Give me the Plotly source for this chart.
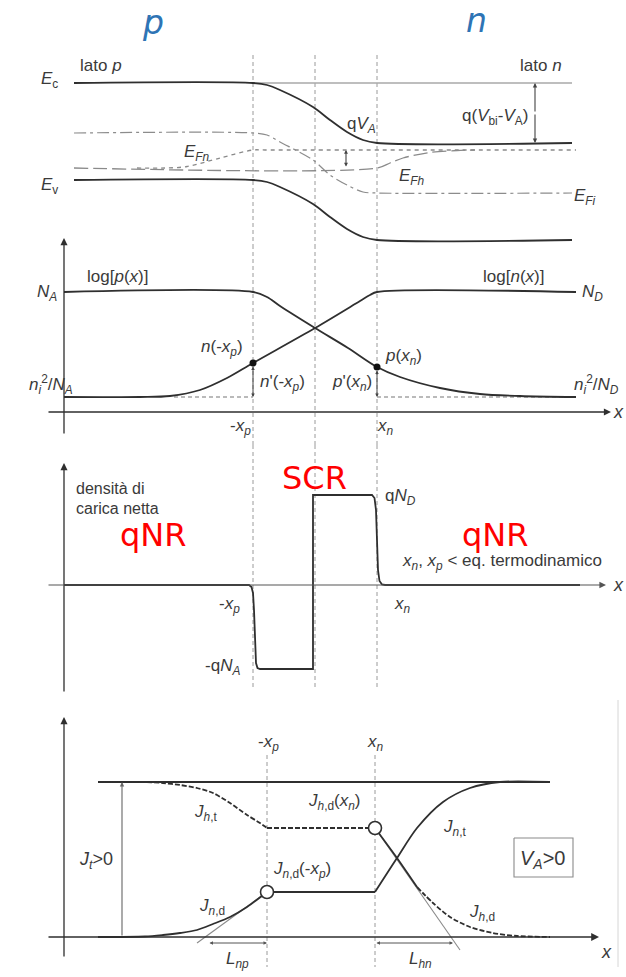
import plotly.graph_objects as go

# ---------------------------------------------------------------
# p-n junction under forward bias: bands, carriers, charge, currents
# x positions are in diagram units, junction at x = 0
# ---------------------------------------------------------------
XP, XN = -6.2, 6.2          # -x_p and x_n edges of the space-charge region
X_MID = 0.0

# ---- panel 1: band diagram (energy, arbitrary units) ----
band_x = [-24.1, -6.2, -4.8, -3.5, -0.2, 1.5, 3.2, 4.8, 6.2, 25.7]
ec_y = [15.7, 15.7, 15.5, 15.0, 13.3, 12.0, 10.8, 10.0, 9.7, 9.7]
ev_y = [6.0, 6.0, 5.8, 5.3, 3.6, 2.3, 1.1, 0.3, 0.0, 0.0]
efi_y = [10.7, 10.7, 10.5, 9.8, 8.0, 6.5, 5.5, 4.8, 4.7, 4.7]
ec_ref_x = [-6.2, 25.7]
ec_ref_y = [15.7, 15.7]
efn_x = [-17.8, -15.0, -12.8, -9.5, -6.2, -5.0, 26.1]
efn_y = [7.2, 7.2, 7.35, 8.2, 9.0, 9.0, 9.0]
efp_x = [-24.1, 6.2, 7.5, 8.8, 11.5, 14.2, 16.0]
efp_y = [7.2, 7.2, 7.7, 8.2, 8.75, 8.95, 9.0]
qva_x = 3.1
qvbi_x = 22.0

# ---- panel 2: log of carrier densities ----
p_x = [-25.1, -6.2, -4.8, -3.5, 0.0, 3.3, 6.2, 8.5, 12.5, 16.5, 20.5, 26.1]
p_y = [12.0, 12.0, 11.5, 10.6, 8.4, 6.4, 4.5, 3.5, 2.4, 1.8, 1.6, 1.5]
n_x = [-25.1, -17.5, -14.5, -11.5, -8.8, -6.2, 0.0, 4.5, 5.5, 6.2, 26.1]
n_y = [1.5, 1.5, 1.6, 2.2, 3.4, 4.9, 8.4, 11.1, 11.7, 12.0, 12.0]
NA_LEVEL, NI2_LEVEL = 12.0, 1.5
n_edge = (XP, 4.9)      # n(-x_p)
p_edge = (XN, 4.5)      # p(x_n)
eq_ref_left_x = [-14.1, XP]
eq_ref_right_x = [XN, 26.1]

# ---- panel 3: net charge density ----
rho_x = [-25.1, -6.6, -6.35, -6.2, -6.1, -6.0, -5.9, -5.75, -5.5, -0.2, -0.2,
         5.7, 5.95, 6.1, 6.2, 6.3, 6.45, 6.7, 7.0, 26.5]
rho_y = [0.0, 0.0, -0.2, -0.8, -2.5, -6.0, -7.8, -8.3, -8.4, -8.4, 9.0,
         9.0, 8.7, 7.5, 4.5, 1.5, 0.4, 0.05, 0.0, 0.0]

# ---- panel 4: current densities ----
XP4, XN4 = -4.8, 6.0
j_tot_x = [-21.7, 23.5]
j_tot_y = [15.5, 15.5]
jht_x = [-21.7, -17.0, -15.2, -13.5, -11.8, -10.2, -8.5, -6.8, -5.5, -4.8]
jht_y = [15.5, 15.5, 15.4, 15.2, 14.9, 14.4, 13.4, 12.2, 11.4, 10.9]
jh_flat_x = [-4.8, 6.0]
jh_flat_y = [10.9, 10.9]
jnd_x = [-21.7, -17.0, -15.2, -13.5, -11.8, -10.2, -8.5, -6.8, -4.8]
jnd_y = [0.0, 0.05, 0.2, 0.4, 0.7, 1.3, 2.0, 3.0, 4.5]
jn_flat_x = [-4.8, 6.0]
jn_flat_y = [4.5, 4.5]
jnt_x = [6.0, 8.2, 10.2, 12.8, 15.5, 18.5, 23.5]
jnt_y = [4.5, 7.9, 10.9, 13.5, 14.9, 15.5, 15.5]
jhd_solid_x = [6.0, 8.2, 10.2]
jhd_solid_y = [10.9, 7.9, 5.0]
jhd_dash_x = [10.2, 11.8, 13.5, 15.5, 17.8, 20.2, 23.5]
jhd_dash_y = [5.0, 3.4, 2.0, 1.0, 0.4, 0.1, 0.0]
tan_left_x = [-11.8, -4.8]
tan_left_y = [-0.6, 4.5]
tan_right_x = [6.0, 14.5]
tan_right_y = [10.9, -1.3]
l_np = (-10.7, -4.8)
l_hn = (6.0, 13.8)
jt_arrow_x = -19.3
va_box_x = [19.9, 25.8, 25.8, 19.9, 19.9]
va_box_y = [9.9, 9.9, 6.0, 6.0, 9.9]

# ---------------------------------------------------------------
# page geometry: four stacked panels sharing one horizontal scale
# ---------------------------------------------------------------
W, H = 626, 977
UNIT = 10.0
X_ORIGIN = 315
PANELS = {  # axis: (top row, bottom row, row of y = 0)
    "y": (0, 245, 240),
    "y2": (245, 445, 412),
    "y3": (445, 700, 585),
    "y4": (700, 977, 937),
}

INK = "#2f2f2f"
TXT = "#3a3a3a"
GUIDE = "#9a9a9a"
FONT = "Liberation Sans, Arial, sans-serif"

fig = go.Figure()


def line(x, y, ax, color=INK, width=1.8, dash="solid", shape="spline", smooth=0.9):
    fig.add_trace(go.Scatter(
        x=x, y=y, mode="lines", yaxis=ax, xaxis="x",
        line=dict(color=color, width=width, dash=dash, shape=shape,
                  smoothing=smooth if shape == "spline" else None),
        hoverinfo="skip", showlegend=False))


annotations = []


def label(x, y, ax, text, size=17, color=TXT, xanchor="center", family=FONT):
    annotations.append(dict(
        x=x, y=y, xref="x", yref=ax, text=text, showarrow=False,
        xanchor=xanchor, yanchor="middle",
        font=dict(size=size, color=color, family=family)))


def arrow(x0, y0, x1, y1, ax, both=False, color=INK, width=1.3, size=1.0, head=2):
    annotations.append(dict(
        x=x1, y=y1, ax=x0, ay=y0, xref="x", yref=ax, axref="x", ayref=ax,
        text="", showarrow=True, arrowhead=head, startarrowhead=head,
        arrowside="end+start" if both else "end",
        arrowsize=size, arrowwidth=width, arrowcolor=color,
        standoff=0, startstandoff=0))


# ---------------- panel 1 ----------------
for xv in (XP, X_MID, XN):
    line([xv, xv], [18.5, -0.5], "y", color=GUIDE, width=1, dash="4px,3px", shape="linear")
line(ec_ref_x, ec_ref_y, "y", color="#a8a8a8", width=1.3, shape="linear")
line(band_x, efi_y, "y", color="#8c8c8c", width=1.2, dash="12px,4px,3px,4px")
line(efp_x, efp_y, "y", color="#8a8a8a", width=1.3, dash="14px,5px")
line(efn_x, efn_y, "y", color="#8a8a8a", width=1.3, dash="4px,4px")
line(band_x, ec_y, "y")
line(band_x, ev_y, "y")
arrow(qvbi_x, 12.7, qvbi_x, 15.7, "y", color="#444", width=1.1, size=0.8)
arrow(qvbi_x, 12.7, qvbi_x, 9.7, "y", color="#444", width=1.1, size=0.8)
arrow(qva_x, efp_y[0], qva_x, efn_y[-1], "y", both=True, color="#444", width=1.1, size=0.7)

label(-16.2, 21.8, "y", "<i>p</i>", size=33, color="#2e74b5", family="DejaVu Sans")
label(16.1, 22.0, "y", "<i>n</i>", size=33, color="#2e74b5", family="DejaVu Sans")
label(-23.7, 17.5, "y", "lato <i>p</i>", xanchor="left")
label(24.9, 17.5, "y", "lato <i>n</i>", xanchor="right")
label(-26.6, 16.0, "y", "<i>E</i><sub>c</sub>")
label(-26.6, 5.4, "y", "<i>E</i><sub>v</sub>")
label(21.5, 12.3, "y", "q(<i>V</i><sub>bi</sub>-<i>V</i><sub>A</sub>)", xanchor="right")
label(3.0, 11.5, "y", "q<i>V</i><sub><i>A</i></sub>", xanchor="left")
label(-13.3, 8.7, "y", "<i>E</i><sub><i>Fn</i></sub>", xanchor="left")
label(8.2, 6.3, "y", "<i>E</i><sub><i>Fh</i></sub>", xanchor="left")
label(25.7, 4.3, "y", "<i>E</i><sub><i>Fi</i></sub>", xanchor="left")

# ---------------- panel 2 ----------------
for xv in (XP, X_MID, XN):
    line([xv, xv], [16.7, -3.3], "y2", color=GUIDE, width=1, dash="4px,3px", shape="linear")
line(eq_ref_left_x, [NI2_LEVEL, NI2_LEVEL], "y2", color="#777", width=1.1, dash="4px,3px", shape="linear")
line(eq_ref_right_x, [NI2_LEVEL, NI2_LEVEL], "y2", color="#777", width=1.1, dash="4px,3px", shape="linear")
line(p_x, p_y, "y2")
line(n_x, n_y, "y2")
fig.add_trace(go.Scatter(
    x=[n_edge[0], p_edge[0]], y=[n_edge[1], p_edge[1]], mode="markers",
    yaxis="y2", xaxis="x", marker=dict(size=7, color="#111"),
    hoverinfo="skip", showlegend=False))
arrow(-25.1, -2.3, -25.1, 17.4, "y2", color=INK, width=1.3, size=1.1)
arrow(-26.8, 0, 29.6, 0, "y2", color=INK, width=1.3, size=1.1)
arrow(n_edge[0], n_edge[1] - 0.2, n_edge[0], NI2_LEVEL, "y2", both=True, color="#444", width=1.0, size=0.7)
arrow(p_edge[0], p_edge[1] - 0.2, p_edge[0], NI2_LEVEL, "y2", both=True, color="#444", width=1.0, size=0.7)

label(-19.8, 13.5, "y2", "log[<i>p</i>(<i>x</i>)]")
label(19.8, 13.5, "y2", "log[<i>n</i>(<i>x</i>)]")
label(-26.8, 11.9, "y2", "<i>N</i><sub><i>A</i></sub>")
label(27.7, 11.9, "y2", "<i>N</i><sub><i>D</i></sub>")
label(-26.4, 2.7, "y2", "<i>n</i><sub><i>i</i></sub><sup>2</sup>/<i>N</i><sub><i>A</i></sub>")
label(28.1, 2.7, "y2", "<i>n</i><sub><i>i</i></sub><sup>2</sup>/<i>N</i><sub><i>D</i></sub>")
label(-9.3, 6.4, "y2", "<i>n</i>(-<i>x</i><sub><i>p</i></sub>)")
label(8.8, 5.5, "y2", "<i>p</i>(<i>x</i><sub><i>n</i></sub>)")
label(-5.7, 2.9, "y2", "<i>n</i>'(-<i>x</i><sub><i>p</i></sub>)", xanchor="left")
label(5.9, 2.9, "y2", "<i>p</i>'(<i>x</i><sub><i>n</i></sub>)", xanchor="right")
label(-7.5, -1.5, "y2", "-<i>x</i><sub><i>p</i></sub>")
label(7.0, -1.5, "y2", "<i>x</i><sub><i>n</i></sub>")
label(30.3, 0.0, "y2", "<i>x</i>", size=18)

# ---------------- panel 3 ----------------
for xv in (XP, X_MID, XN):
    line([xv, xv], [14.0, -10.5], "y3", color=GUIDE, width=1, dash="4px,3px", shape="linear")
arrow(-25.1, -10.8, -25.1, 12.2, "y3", color=INK, width=1.3, size=1.1)
arrow(-26.8, 0, 29.1, 0, "y3", color="#555", width=1.1, size=1.2)
line(rho_x, rho_y, "y3", shape="linear")

label(-24.1, 9.7, "y3", "densità di", size=16, xanchor="left")
label(-24.1, 7.7, "y3", "carica netta", size=16, xanchor="left")
label(-16.2, 5.0, "y3", "qNR", size=32, color="#ff0000", family="DejaVu Sans")
label(-0.1, 10.7, "y3", "SCR", size=32, color="#ff0000", family="DejaVu Sans")
label(18.0, 5.0, "y3", "qNR", size=32, color="#ff0000", family="DejaVu Sans")
label(8.5, 2.3, "y3", "<i>x</i><sub><i>n</i></sub>, <i>x</i><sub><i>p</i></sub> &lt; eq. termodinamico",
      size=17, xanchor="left")
label(-7.3, -2.0, "y3", "-<i>x</i><sub><i>p</i></sub>", xanchor="right")
label(7.7, -2.0, "y3", "<i>x</i><sub><i>n</i></sub>", xanchor="left")
label(-7.3, -8.2, "y3", "-q<i>N</i><sub><i>A</i></sub>", xanchor="right")
label(6.8, 8.8, "y3", "q<i>N</i><sub><i>D</i></sub>", xanchor="left")
label(30.3, 0.0, "y3", "<i>x</i>", size=18)

# ---------------- panel 4 ----------------
for xv in (XP4, XN4):
    line([xv, xv], [18.2, -3.0], "y4", color=GUIDE, width=1, dash="4px,3px", shape="linear")
line([30.3, 30.3], [23.7, -3.0], "y4", color="#d6d6d6", width=1, shape="linear")
arrow(-25.1, -2.1, -25.1, 22.0, "y4", color=INK, width=1.3, size=1.1)
arrow(-26.8, 0, 28.4, 0, "y4", color=INK, width=1.3, size=1.2)
line(tan_left_x, tan_left_y, "y4", color="#8a8a8a", width=1.1, shape="linear")
line(tan_right_x, tan_right_y, "y4", color="#8a8a8a", width=1.1, shape="linear")
line(j_tot_x, j_tot_y, "y4", shape="linear")
line(jht_x, jht_y, "y4", dash="5px,2px", smooth=0.8)
line(jh_flat_x, jh_flat_y, "y4", dash="5px,2px", shape="linear")
line(jnd_x, jnd_y, "y4", smooth=0.8)
line(jn_flat_x, jn_flat_y, "y4", shape="linear")
line(jnt_x, jnt_y, "y4", smooth=0.8)
line(jhd_solid_x, jhd_solid_y, "y4", smooth=0.6)
line(jhd_dash_x, jhd_dash_y, "y4", dash="5px,2px", smooth=0.8)
line(va_box_x, va_box_y, "y4", color="#8a8a8a", width=1.1, shape="linear")
fig.add_trace(go.Scatter(
    x=[jnd_x[-1], jh_flat_x[-1]], y=[jnd_y[-1], jh_flat_y[-1]], mode="markers",
    yaxis="y4", xaxis="x",
    marker=dict(size=13, color="white", line=dict(color=INK, width=1.6)),
    hoverinfo="skip", showlegend=False))
arrow(jt_arrow_x, 0, jt_arrow_x, j_tot_y[0], "y4", color="#666", width=1.1, size=0.8)
arrow(l_np[0], -0.6, l_np[1], -0.6, "y4", both=True, color="#555", width=1.0, size=0.7)
arrow(l_hn[0], -0.6, l_hn[1], -0.6, "y4", both=True, color="#555", width=1.0, size=0.7)

label(-4.7, 19.4, "y4", "-<i>x</i><sub><i>p</i></sub>")
label(6.0, 19.4, "y4", "<i>x</i><sub><i>n</i></sub>")
label(-11.0, 12.4, "y4", "<i>J</i><sub><i>h</i>,t</sub>")
label(1.9, 13.5, "y4", "<i>J</i><sub><i>h</i>,d</sub>(<i>x</i><sub><i>n</i></sub>)")
label(-1.3, 6.7, "y4", "<i>J</i><sub><i>n</i>,d</sub>(-<i>x</i><sub><i>p</i></sub>)")
label(-10.3, 3.0, "y4", "<i>J</i><sub><i>n</i>,d</sub>")
label(13.9, 10.9, "y4", "<i>J</i><sub><i>n</i>,t</sub>")
label(16.7, 2.4, "y4", "<i>J</i><sub><i>h</i>,d</sub>")
label(-7.8, -2.3, "y4", "<i>L</i><sub><i>np</i></sub>")
label(10.5, -2.3, "y4", "<i>L</i><sub><i>hn</i></sub>")
label(-21.9, 7.7, "y4", "<i>J</i><sub><i>t</i></sub>&gt;0", size=18)
label(22.8, 7.8, "y4", "<i>V</i><sub><i>A</i></sub>&gt;0", size=20)
label(29.1, -1.5, "y4", "<i>x</i>", size=18)

# ---------------- layout ----------------
layout = dict(
    width=W, height=H, margin=dict(l=0, r=0, t=0, b=0),
    paper_bgcolor="white", plot_bgcolor="white",
    showlegend=False, annotations=annotations,
    xaxis=dict(range=[(0 - X_ORIGIN) / UNIT, (W - X_ORIGIN) / UNIT], domain=[0, 1],
               visible=False, fixedrange=True),
)
for name, (top, bottom, zero) in PANELS.items():
    key = "yaxis" if name == "y" else "yaxis" + name[1:]
    layout[key] = dict(
        domain=[1 - bottom / H, 1 - top / H],
        range=[(zero - bottom) / UNIT, (zero - top) / UNIT],
        anchor="x", visible=False, fixedrange=True)
fig.update_layout(**layout)

fig.write_html("out.html")
